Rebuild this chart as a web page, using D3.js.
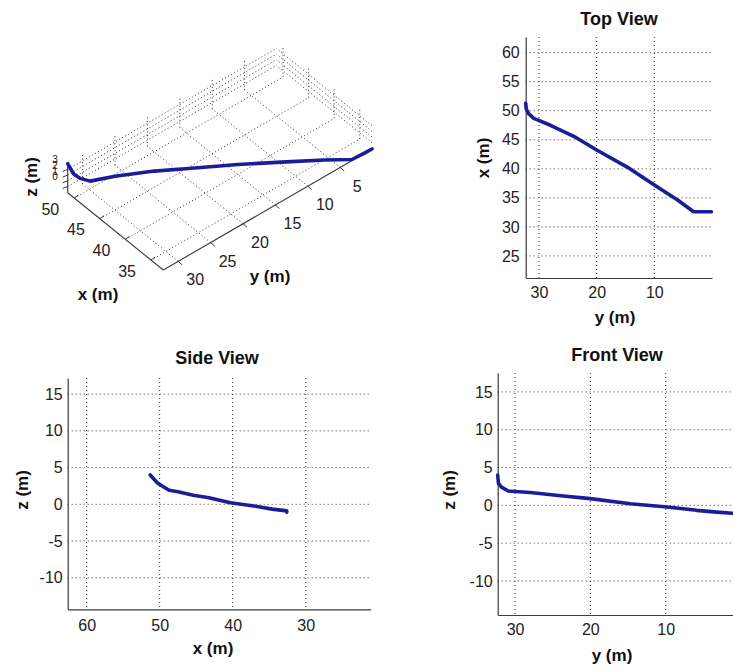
<!DOCTYPE html>
<html><head><meta charset="utf-8">
<script src="https://cdn.jsdelivr.net/npm/d3@7"></script>
<style>body{margin:0;background:#fff} text{font-family:"Liberation Sans",Arial,sans-serif}</style>
</head><body><svg id="c" width="733" height="670"></svg>
<script>
// trajectory samples (metres)
const trajY = [32.3, 32.2, 31.8, 30.9, 28.0, 23.6, 20.0, 14.7, 9.8, 5.9, 3.2, 1.2, 0.1];
const trajX = [51.3, 50.3, 49.5, 48.7, 47.5, 45.4, 43.25, 40.3, 37.1, 34.6, 32.6, 32.6, 32.6];
const trajZ = [4.0, 2.9, 2.4, 1.9, 1.7, 1.24, 0.89, 0.22, -0.22, -0.66, -0.9, -1.05, -1.1];

const topXTicks = [30, 20, 10];
const topYTicks = [25, 30, 35, 40, 45, 50, 55, 60];
const sideXTicks = [60, 50, 40, 30];
const zTicks = [-10, -5, 0, 5, 10, 15];
const frontXTicks = [30, 20, 10];
const x3Ticks = [35, 40, 45, 50];
const y3Ticks = [5, 10, 15, 20, 25, 30];
const z3Ticks = [0, 1, 2, 3];
const titles = ["Top View", "Side View", "Front View"];
const labels = ["x (m)", "y (m)", "z (m)"];

const svg = d3.select("#c");
svg.append("rect").attr("width", 733).attr("height", 670).attr("fill", "#fff");
const LINE = "#1c1c96", AX = "#3a3a3a", GRID = "#333", TXT = "#222";
const pts = trajX.map((x, i) => ({x: x, y: trajY[i], z: trajZ[i]}));
const fmt = d => String(d);

function panel(o) {
  const g = svg.append("g");
  const xs = d3.scaleLinear().domain(o.xDom).range([o.left, o.right]);
  const ys = d3.scaleLinear().domain(o.yDom).range([o.bottom, o.top]);
  const right = Math.min(o.right, 733);
  g.selectAll(".gx").data(o.xTicks).join("line")
    .attr("x1", d => xs(d)).attr("x2", d => xs(d)).attr("y1", o.top).attr("y2", o.bottom)
    .attr("stroke", GRID).attr("stroke-width", 1).attr("stroke-dasharray", "1,3");
  g.selectAll(".gy").data(o.yTicks).join("line")
    .attr("x1", o.left).attr("x2", right).attr("y1", d => ys(d)).attr("y2", d => ys(d))
    .attr("stroke", GRID).attr("stroke-width", 1).attr("stroke-dasharray", "1,3");
  const ax = g.append("g").attr("transform", `translate(0,${o.bottom})`)
    .call(d3.axisBottom(xs).tickValues(o.xTicks).tickSize(0).tickPadding(o.xPad).tickFormat(fmt));
  const ay = g.append("g").attr("transform", `translate(${o.left},0)`)
    .call(d3.axisLeft(ys).tickValues(o.yTicks).tickSize(0).tickPadding(o.yPad).tickFormat(fmt));
  [ax, ay].forEach(a => {
    a.select(".domain").attr("stroke", AX).attr("stroke-width", 1.2);
    a.selectAll("text").attr("font-size", 16).attr("fill", TXT).attr("font-family", '"Liberation Sans",Arial,sans-serif');
  });
  const line = d3.line().x(d => xs(d[o.xKey])).y(d => ys(d[o.yKey]));
  g.append("path").datum(pts).attr("d", line).attr("fill", "none")
    .attr("stroke", LINE).attr("stroke-width", 3.6).attr("stroke-linejoin", "round").attr("stroke-linecap", "round");
  g.append("text").attr("x", o.titleX).attr("y", o.titleY).attr("text-anchor", "middle")
    .attr("font-size", 18).attr("font-weight", "bold").attr("fill", "#111").text(o.title);
  g.append("text").attr("x", o.xLabelX).attr("y", o.xLabelY).attr("text-anchor", "middle")
    .attr("font-size", 17).attr("font-weight", "bold").attr("fill", "#111").text(o.xLabel);
  g.append("text").attr("transform", `translate(${o.yLabelX},${o.yLabelY}) rotate(-90)`)
    .attr("text-anchor", "middle").attr("dy", "0.35em")
    .attr("font-size", 17).attr("font-weight", "bold").attr("fill", "#111").text(o.yLabel);
}

panel({left: 525.7, right: 712, top: 37, bottom: 278, xDom: [32.3, 0], yDom: [21.2, 62.7],
  xTicks: topXTicks, yTicks: topYTicks, xKey: "y", yKey: "x", xPad: 9, yPad: 6,
  title: titles[0], titleX: 619, titleY: 25, xLabel: labels[1], xLabelX: 615, xLabelY: 323,
  yLabel: labels[0], yLabelX: 483, yLabelY: 158});

panel({left: 67.7, right: 370.7, top: 378, bottom: 609.3, xDom: [62.6, 21.1], yDom: [-14.3, 17.2],
  xTicks: sideXTicks, yTicks: zTicks, xKey: "x", yKey: "z", xPad: 10, yPad: 5,
  title: titles[1], titleX: 217, titleY: 364, xLabel: labels[0], xLabelX: 213, xLabelY: 654,
  yLabel: labels[2], yLabelX: 22, yLabelY: 490});

panel({left: 497.7, right: 741, top: 373, bottom: 615, xDom: [32.3, 0], yDom: [-14.5, 17.5],
  xTicks: frontXTicks, yTicks: zTicks, xKey: "y", yKey: "z", xPad: 9, yPad: 5,
  title: titles[2], titleX: 617, titleY: 361, xLabel: labels[1], xLabelX: 612, xLabelY: 661,
  yLabel: labels[2], yLabelX: 449, yLabelY: 490});

(function () {
  const g = svg.append("g");
  const xmin = d3.min(trajX), xmax = d3.max(trajX);
  const ymin = d3.min(trajY), ymax = d3.max(trajY);
  const zmin = d3.min(trajZ), zmax = d3.max(trajZ);
  const sx = d3.scaleLinear().domain([xmin, xmax]).range([0, 1]);
  const sy = d3.scaleLinear().domain([ymax, ymin]).range([0, 1]);
  const sz = d3.scaleLinear().domain([zmin, zmax]).range([0, 1]);
  const O = [163.3, 270], VX = [-95.6, -77.3], VY = [208.7, -121], VZ = [0, -29];
  const P = (x, y, z) => [O[0] + sx(x) * VX[0] + sy(y) * VY[0] + sz(z) * VZ[0],
                          O[1] + sx(x) * VX[1] + sy(y) * VY[1] + sz(z) * VZ[1]];
  const seg = (a, b, dash, col, w) => g.append("line")
    .attr("x1", a[0]).attr("y1", a[1]).attr("x2", b[0]).attr("y2", b[1])
    .attr("stroke", col).attr("stroke-width", w).attr("stroke-dasharray", dash);
  const dsh = "1,2.5";
  x3Ticks.forEach(x => seg(P(x, ymax, zmin), P(x, ymin, zmin), dsh, GRID, 1));
  y3Ticks.forEach(y => seg(P(xmin, y, zmin), P(xmax, y, zmin), dsh, GRID, 1));
  y3Ticks.forEach(y => seg(P(xmax, y, zmin), P(xmax, y, zmax), dsh, GRID, 1));
  z3Ticks.forEach(z => seg(P(xmax, ymax, z), P(xmax, ymin, z), dsh, GRID, 1));
  x3Ticks.forEach(x => seg(P(x, ymin, zmin), P(x, ymin, zmax), dsh, GRID, 1));
  z3Ticks.forEach(z => seg(P(xmin, ymin, z), P(xmax, ymin, z), dsh, GRID, 1));
  seg(P(xmax, ymax, zmin), P(xmin, ymax, zmin), null, AX, 1.1);
  seg(P(xmin, ymax, zmin), P(xmin, ymin, zmin), null, AX, 1.1);
  seg(P(xmax, ymax, zmin), P(xmax, ymax, zmax), null, AX, 1.1);
  x3Ticks.forEach(x => { const p = P(x, ymax, zmin); seg(p, [p[0] + 4, p[1] - 3], null, AX, 1); });
  y3Ticks.forEach(y => { const p = P(xmin, y, zmin); seg(p, [p[0] + 4, p[1] + 3.5], null, AX, 1); });
  z3Ticks.forEach(z => { const p = P(xmax, ymax, z); seg(p, [p[0] - 5, p[1] + 2], null, AX, 1); });
  g.selectAll(".xl").data(x3Ticks).join("text")
    .attr("x", d => P(d, ymax, zmin)[0] - 24).attr("y", d => P(d, ymax, zmin)[1] + 11)
    .attr("dy", "0.35em").attr("text-anchor", "middle").attr("font-size", 16).attr("fill", TXT).text(fmt);
  g.selectAll(".yl").data(y3Ticks).join("text")
    .attr("x", d => P(xmin, d, zmin)[0] + 17).attr("y", d => P(xmin, d, zmin)[1] + 18.5)
    .attr("dy", "0.35em").attr("text-anchor", "middle").attr("font-size", 16).attr("fill", TXT).text(fmt);
  g.selectAll(".zl").data(z3Ticks).join("text")
    .attr("x", d => P(xmax, ymax, d)[0] - 10).attr("y", d => P(xmax, ymax, d)[1] - 9.5)
    .attr("dy", "0.35em").attr("text-anchor", "end").attr("font-size", 10).attr("fill", TXT).text(fmt);
  const line = d3.line().x(d => P(d.x, d.y, d.z)[0]).y(d => P(d.x, d.y, d.z)[1]);
  g.append("path").datum(pts).attr("d", line).attr("fill", "none")
    .attr("stroke", LINE).attr("stroke-width", 3.6).attr("stroke-linejoin", "round").attr("stroke-linecap", "round");
  g.append("text").attr("x", 98).attr("y", 300).attr("text-anchor", "middle")
    .attr("font-size", 17).attr("font-weight", "bold").attr("fill", "#111").text(labels[0]);
  g.append("text").attr("x", 270).attr("y", 282).attr("text-anchor", "middle")
    .attr("font-size", 17).attr("font-weight", "bold").attr("fill", "#111").text(labels[1]);
  g.append("text").attr("transform", "translate(31,177) rotate(-90)").attr("text-anchor", "middle")
    .attr("dy", "0.35em").attr("font-size", 17).attr("font-weight", "bold").attr("fill", "#111").text(labels[2]);
})();
</script></body></html>
